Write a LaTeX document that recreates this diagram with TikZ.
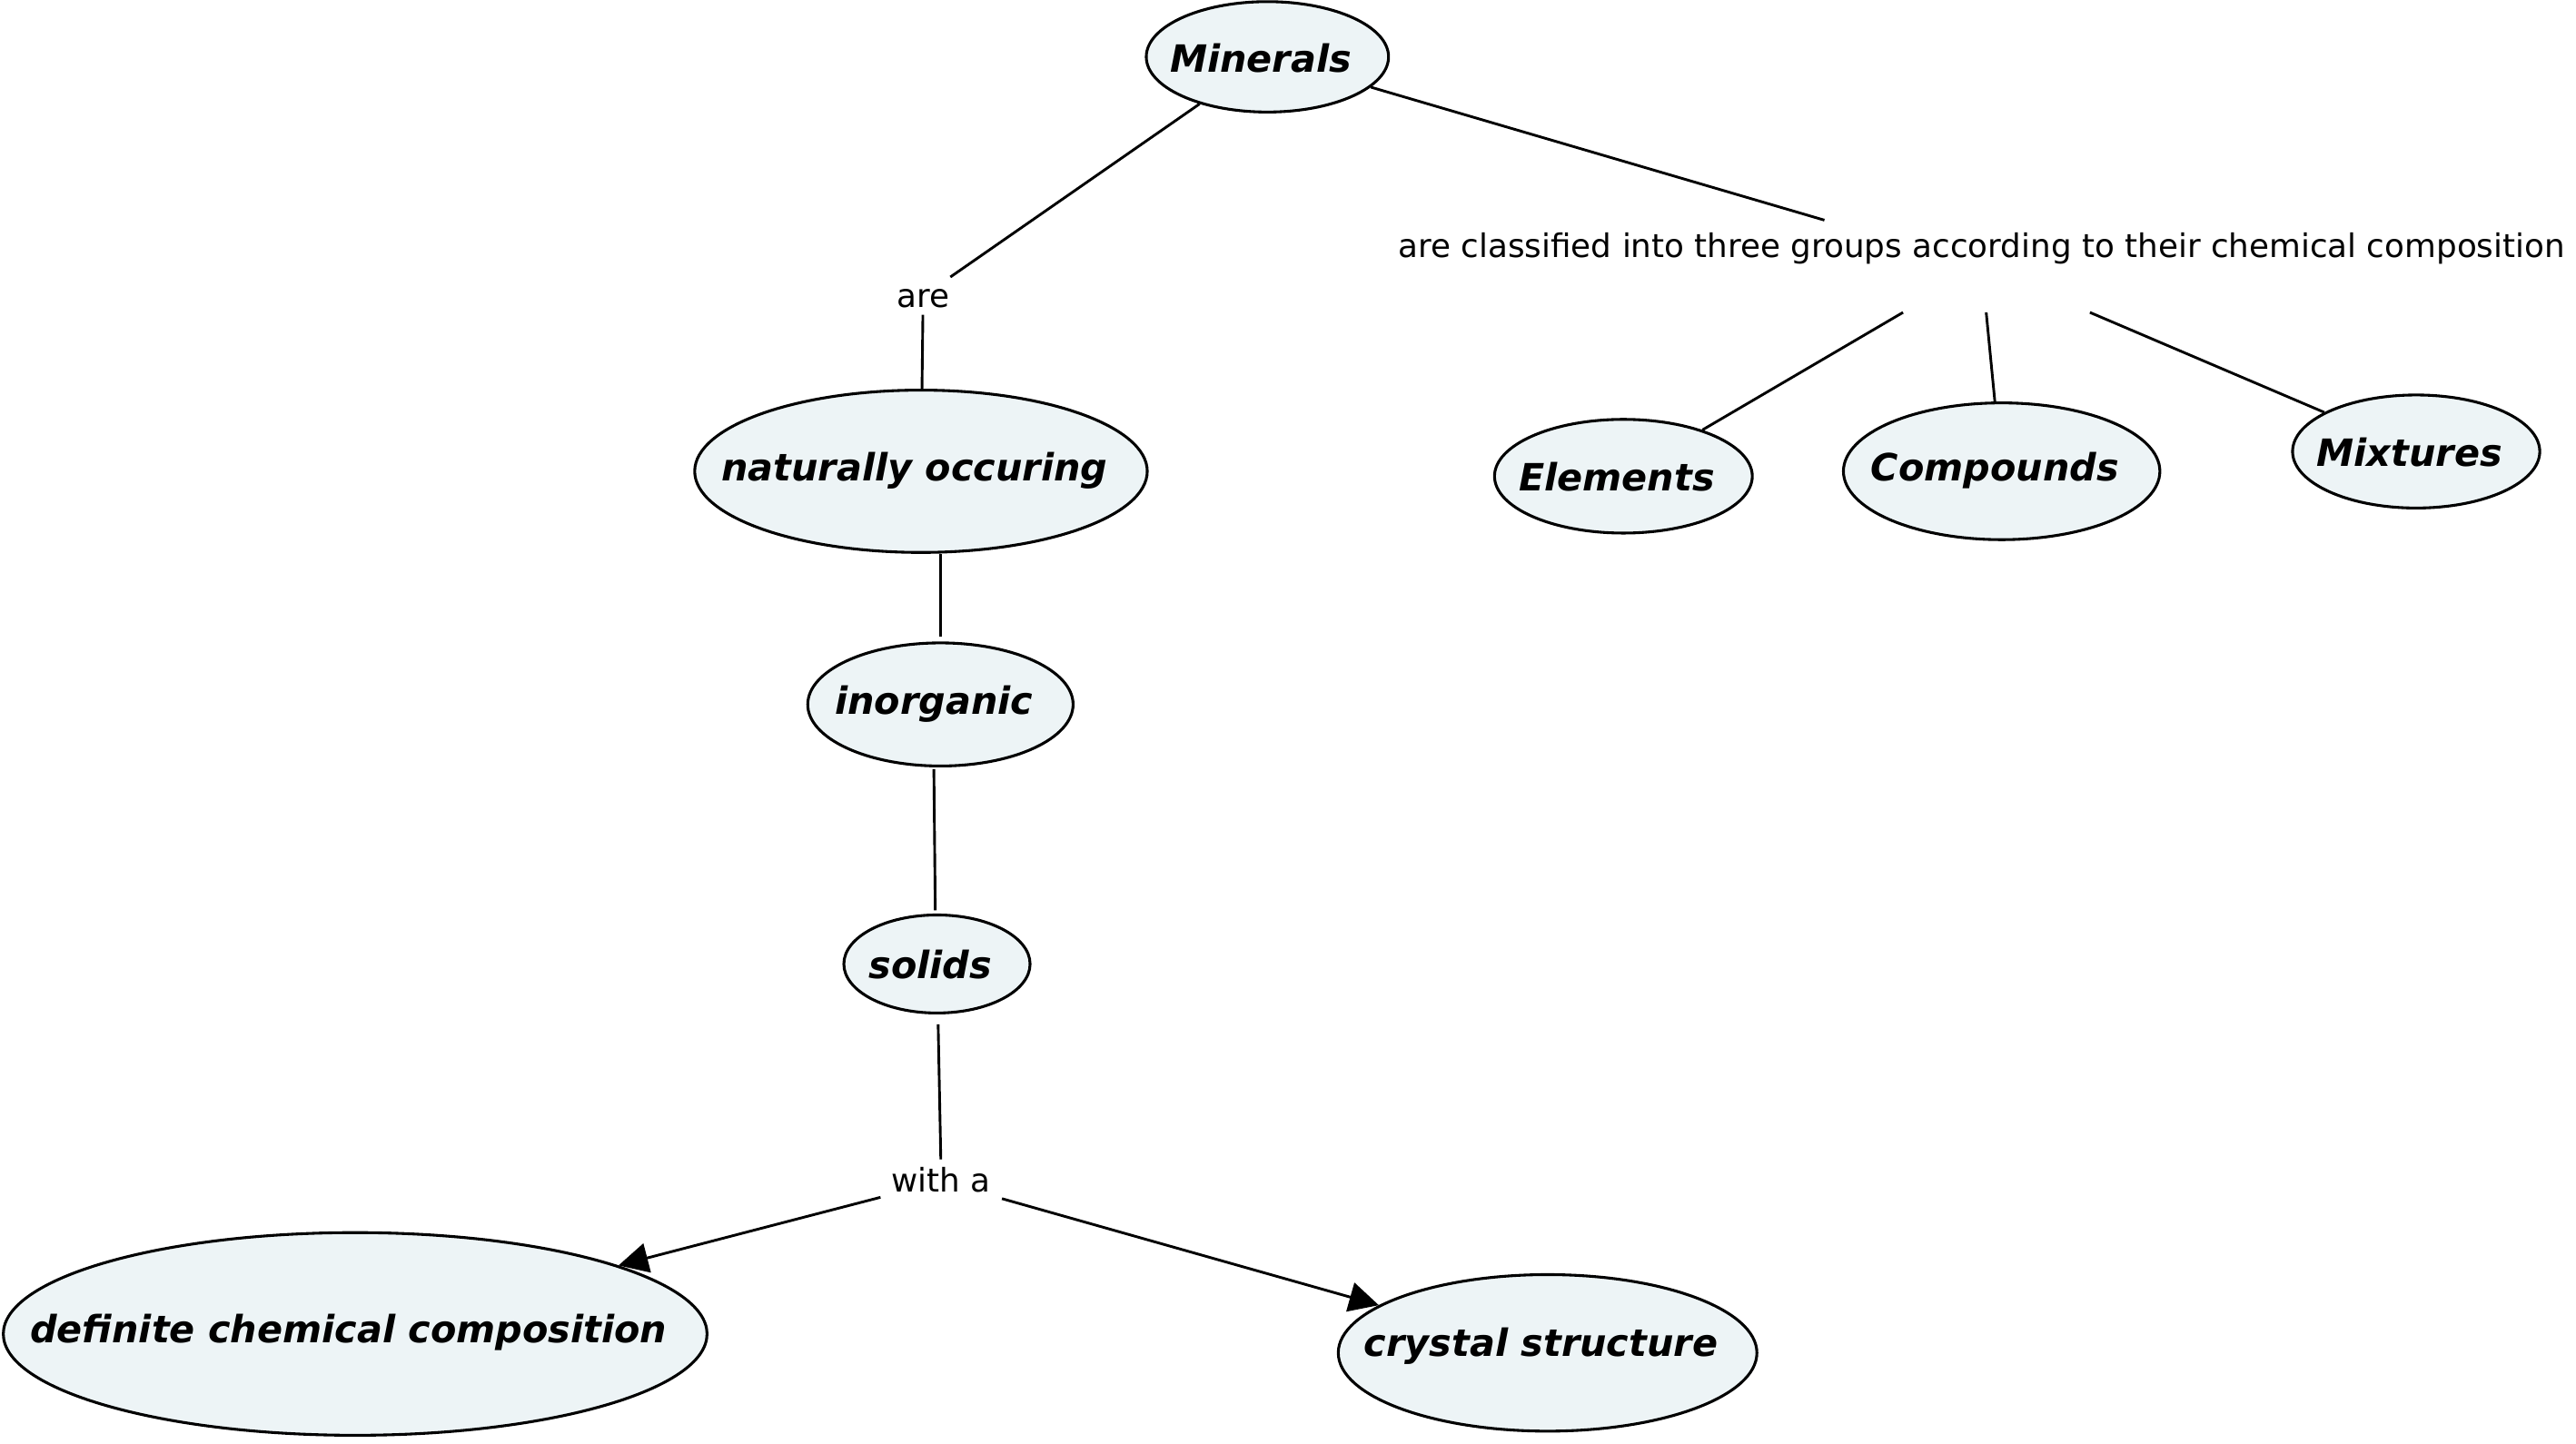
\documentclass[tikz,border=0pt]{standalone}
\usepackage{fontspec}
\setmainfont{DejaVu Sans}
\usetikzlibrary{shapes.geometric,arrows.meta}
\definecolor{conceptfill}{RGB}{237,244,246}
\newcommand\cpt[2]{\makebox[0pt]{\kern-4pt\raisebox{-#1pt}[0pt][0pt]{\fontsize{11.4}{13}\selectfont\bfseries\itshape #2}}}
\tikzset{
  concept/.style={ellipse, draw=black, line width=0.85pt, fill=conceptfill, inner sep=0pt},
  linkphrase/.style={rectangle, inner xsep=3.2pt, inner ysep=0pt, anchor=base,
    font=\fontsize{9.85}{12}\selectfont},
  conn/.style={line width=0.8pt, draw=black},
  arr/.style={conn, -{Triangle[length=9pt,width=9pt]}}
}
\begin{document}
\begin{tikzpicture}[x=0.5pt,y=-0.5pt]
\useasboundingbox (0,0) rectangle (1563,875.8);
% concepts
\node[concept, minimum width=73.5pt, minimum height=33.5pt] (m) at (769,34.5) {\cpt{4.75}{Minerals}};
\node[concept, minimum width=137.3pt, minimum height=49.25pt] (nat) at (558.8,286) {\cpt{3}{naturally occuring}};
\node[concept, minimum width=80.5pt, minimum height=37.35pt] (inorg) at (570.6,427.5) {\cpt{3}{inorganic}};
\node[concept, minimum width=56.5pt, minimum height=29.75pt] (sol) at (568.5,585) {\cpt{4.5}{solids}};
\node[concept, minimum width=213.5pt, minimum height=61.5pt] (def) at (215.5,809.5) {\cpt{2.75}{definite chemical composition}};
\node[concept, minimum width=127pt, minimum height=47.5pt] (cry) at (939,821) {\cpt{1}{crystal structure}};
\node[concept, minimum width=78.2pt, minimum height=34.5pt] (el) at (985,289) {\cpt{4.5}{Elements}};
\node[concept, minimum width=96pt, minimum height=41.5pt] (cmp) at (1214.5,286) {\cpt{2.8}{Compounds}};
\node[concept, minimum width=75pt, minimum height=34.3pt] (mix) at (1466,274) {\cpt{4.4}{Mixtures}};
% linking phrases
\node[linkphrase, text height=9pt, text depth=2.1pt] (are) at (560.1,186.5) {are};
\node[linkphrase, text height=9.8pt, text depth=3.2pt] (witha) at (571.1,723.6) {with a};
\node[linkphrase, text height=11pt, text depth=16.6pt] (cls) at (1202.4,156) {are classified into three groups according to their chemical composition};
% connectors
\draw[conn] (m) -- (are);
\draw[conn] (are) -- (nat);
\draw[conn, shorten >=1.5pt] (inorg.north |- nat.south) -- (inorg.north);
\draw[conn, shorten <=0.5pt, shorten >=1pt] ([xshift=-2pt]inorg.south) -- ([xshift=-0.5pt]sol.north);
\draw[conn, shorten <=3pt] (sol) -- (witha);
\draw[arr] (witha) -- (def);
\draw[arr] (witha) -- (cry);
\draw[conn] (m) -- (cls);
\draw[conn] (cls) -- (el);
\draw[conn] (cls) -- (cmp);
\draw[conn] (cls) -- (mix);
\end{tikzpicture}
\end{document}
